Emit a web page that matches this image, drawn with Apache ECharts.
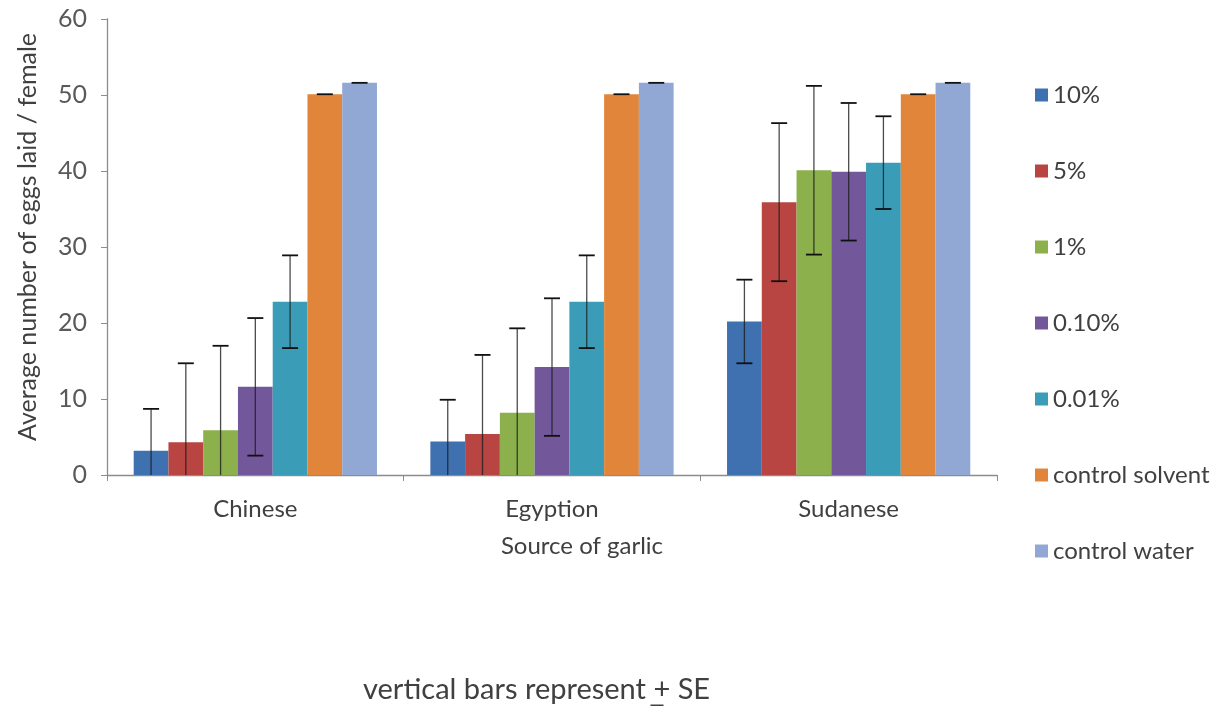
<!DOCTYPE html>
<html>
<head>
<meta charset="utf-8">
<script src="https://cdn.jsdelivr.net/npm/echarts@6/dist/echarts.min.js"></script>
<style>html,body{margin:0;padding:0;background:#fff}#c{width:1222px;height:706px}</style>
</head>
<body>
<div id="c"></div>
<script>
// ---- data ----
const categories = ['Chinese', 'Egyption', 'Sudanese'];
const seriesNames = ['10%', '5%', '1%', '0.10%', '0.01%', 'control solvent', 'control water'];
const v10 = [3.2, 4.4, 20.2];
const v5 = [4.3, 5.4, 35.9];
const v1 = [5.9, 8.2, 40.1];
const v010 = [11.6, 14.2, 39.9];
const v001 = [22.8, 22.8, 41.1];
const vSolvent = [50.1, 50.1, 50.1];
const vWater = [51.6, 51.6, 51.6];
const se10 = [5.5, 5.5, 5.5];
const se5 = [10.4, 10.4, 10.4];
const se1 = [11.1, 11.1, 11.1];
const se010 = [9.05, 9.05, 9.05];
const se001 = [6.1, 6.1, 6.1];
const seSolvent = [0, 0, 0];
const seWater = [0, 0, 0];
const yTicks = [0, 10, 20, 30, 40, 50, 60];

const values = [v10, v5, v1, v010, v001, vSolvent, vWater];
const errors = [se10, se5, se1, se010, se001, seSolvent, seWater];
const colors = ['#3f70b0', '#b84541', '#8bb04c', '#72579a', '#3b9cb8', '#e0853a', '#90a8d3'];

const FONT = 'Lato, "Open Sans", sans-serif';
const CAT_GAP = 0.18;
const n = seriesNames.length;

const series = [];
seriesNames.forEach((name, i) => {
  series.push({
    name: name,
    type: 'bar',
    data: values[i],
    barGap: '0%',
    barCategoryGap: (CAT_GAP * 100) + '%',
    itemStyle: { color: colors[i] },
    z: 2
  });
});
seriesNames.forEach((name, i) => {
  series.push({
    name: 'err_' + name,
    type: 'custom',
    z: 5,
    data: categories.map((c, k) => [k, values[i][k], errors[i][k]]),
    renderItem: function (params, api) {
      const ci = api.value(0), v = api.value(1), se = api.value(2);
      const band = api.size([1, 0])[0];
      const groupW = band * (1 - CAT_GAP);
      const bw = groupW / n;
      const x = api.coord([ci, 0])[0] - groupW / 2 + bw * (i + 0.5);
      const lowV = Math.max(0, v - se);
      const top = api.coord([ci, v + se])[1];
      const bot = api.coord([ci, lowV])[1];
      const cap = 8;
      const st = { stroke: 'rgba(30,30,30,0.8)', lineWidth: 1.3 };
      const capSt = { stroke: '#111', lineWidth: 1.8 };
      const ch = [
        { type: 'line', shape: { x1: x - cap, y1: top, x2: x + cap, y2: top }, style: capSt }
      ];
      if (se > 0) {
        ch.push({ type: 'line', shape: { x1: x, y1: top, x2: x, y2: bot }, style: st });
        if (v - se > 0) {
          ch.push({ type: 'line', shape: { x1: x - cap, y1: bot, x2: x + cap, y2: bot }, style: capSt });
        }
      }
      return { type: 'group', children: ch };
    }
  });
});

const chart = echarts.init(document.getElementById('c'));
chart.setOption({
  animation: false,
  backgroundColor: '#fff',
  grid: { left: 107, right: 225, top: 19, bottom: 231 },
  legend: {
    data: seriesNames,
    orient: 'vertical',
    left: 1030,
    top: 78,
    itemWidth: 13,
    itemHeight: 13,
    itemGap: 52,
    icon: 'rect',
    textStyle: { fontFamily: FONT, fontSize: 24, color: '#404040', lineHeight: 14 }
  },
  xAxis: {
    type: 'category',
    data: categories,
    name: 'Source of garlic',
    nameLocation: 'middle',
    nameGap: 59,
    nameTextStyle: { fontFamily: FONT, fontSize: 24, color: '#404040', padding: [0, 0, 0, 60] },
    axisLine: { lineStyle: { color: '#8c8c8c', width: 1.3 } },
    axisTick: { show: true, length: 6, lineStyle: { color: '#8c8c8c' } },
    axisLabel: { fontFamily: FONT, fontSize: 24, color: '#404040', margin: 22 }
  },
  yAxis: {
    type: 'value',
    min: yTicks[0],
    max: yTicks[yTicks.length - 1],
    interval: yTicks[1] - yTicks[0],
    name: 'Average number of eggs laid / female',
    nameLocation: 'middle',
    nameGap: 67,
    nameTextStyle: { fontFamily: FONT, fontSize: 25, color: '#404040', padding: [0, 0, 0, 20] },
    axisLine: { show: true, lineStyle: { color: '#8c8c8c', width: 1.3 } },
    axisTick: { show: true, length: 6, lineStyle: { color: '#8c8c8c' } },
    axisLabel: { fontFamily: FONT, fontSize: 25, color: '#595959', margin: 20 },
    splitLine: { show: false }
  },
  graphic: [
    {
      type: 'text', left: 363, top: 675,
      style: { text: 'vertical bars represent + SE', font: '29px ' + FONT, fill: '#404040' }
    },
    {
      type: 'line', shape: { x1: 0, y1: 0, x2: 13, y2: 0 }, left: 648, top: 703,
      style: { stroke: '#404040', lineWidth: 2 }
    }
  ],
  series: series
});
</script>
</body>
</html>
